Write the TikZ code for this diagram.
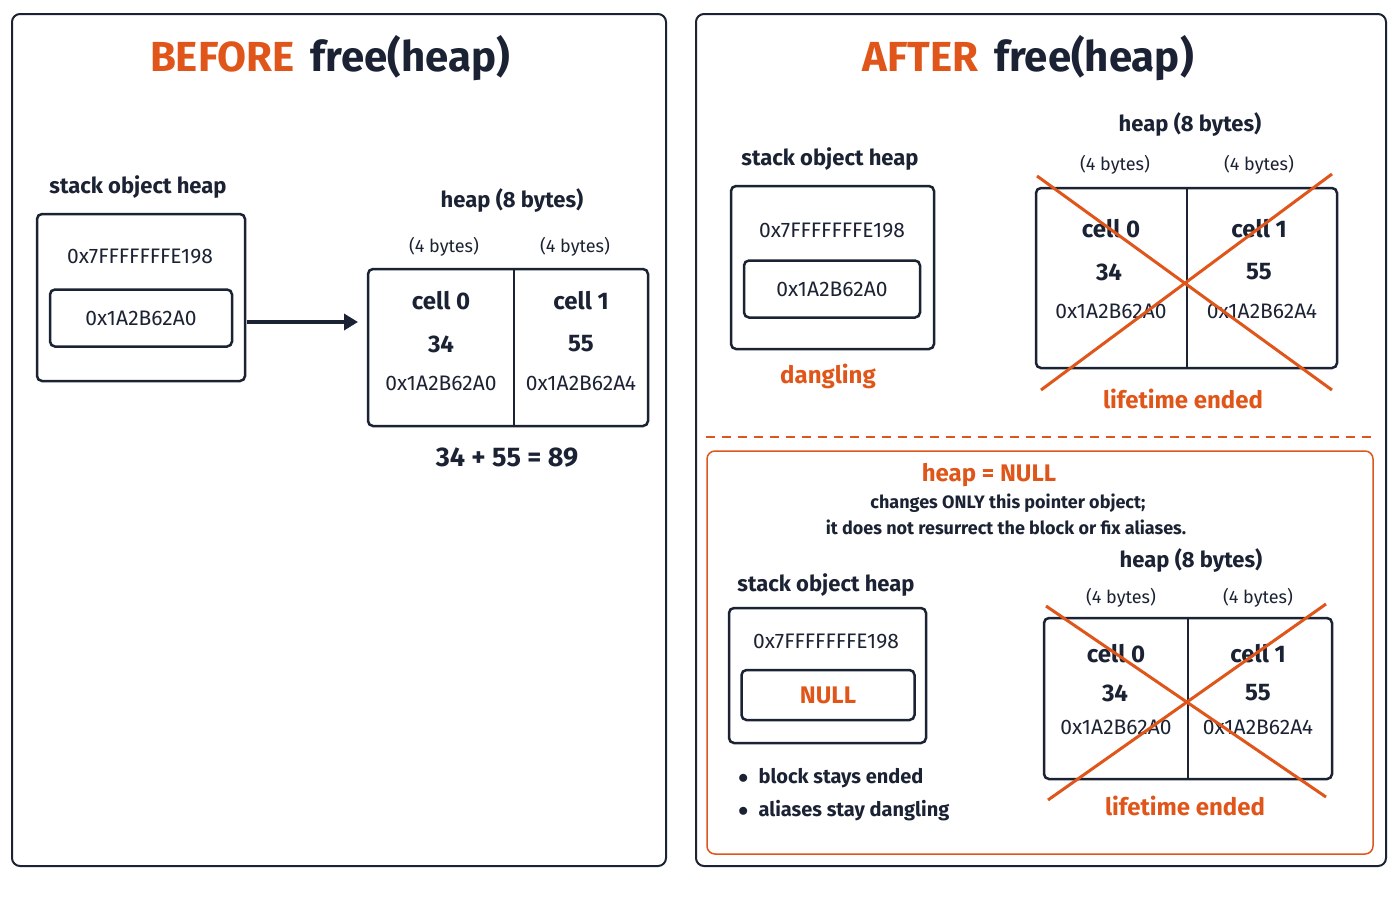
\documentclass[tikz,border=0pt]{standalone}
\usepackage{fontspec}
\setmainfont{Fira Sans}
\usetikzlibrary{arrows.meta}
\begin{document}
\definecolor{org}{HTML}{E0561A}
\definecolor{ink}{HTML}{1B2233}
\begin{tikzpicture}[x=1pt,y=-1pt,
  every node/.style={text=ink,inner sep=0pt},
  panel/.style={draw=ink,line width=2pt,rounded corners=8pt},
  box/.style={draw=ink,line width=2.5pt,rounded corners=5pt},
  ttl/.style={font=\fontsize{42}{46}\selectfont\bfseries},
  lbl/.style={font=\fontsize{22}{24}\selectfont\bfseries},
  sm/.style={font=\fontsize{18}{20}\selectfont},
  smb/.style={font=\fontsize{17}{20}\selectfont\bfseries},
  addr/.style={font=\fontsize{21}{22}\selectfont},
  num/.style={font=\fontsize{24}{26}\selectfont\bfseries},
  olbl/.style={font=\fontsize{24}{26}\selectfont\bfseries,text=org},
  xline/.style={draw=org,line width=3pt}]
\useasboundingbox (0,0) rectangle (1400,900);
% left panel
\draw[panel] (12,14) rectangle (666,866);
\node[ttl] (t1) at (330,58) {\textcolor{org}{BEFORE}\hspace{16pt}free(heap)};
\node[lbl] (s1) at (138,187) {stack object heap};
\draw[box] (37,214) rectangle (245,381);
\node[addr] (a1) at (140,256) {0x7FFFFFFFE198};
\node[box,minimum width=182pt,minimum height=57pt,addr] (p1) at (141,318) {0x1A2B62A0};
\coordinate (o1) at (247,322);
\coordinate (e1) at (358,322);
\node (h1t) [lbl] at (512,200) {heap (8 bytes)};
\node[sm] (b1a) at (444,247) {(4 bytes)};
\node[sm] (b1b) at (575,247) {(4 bytes)};
\node[box,minimum width=280pt,minimum height=157pt] (hb1) at (508,347.5) {};
\draw[ink,line width=2pt] (514,269) -- (514,426);
\draw[ink,line width=3.5pt,-{Triangle[length=14pt,width=16pt]}] (o1) -- (e1);
\node[num] at (441,301) {cell 0};
\node[num] at (441,344) {34};
\node[addr] at (441,383) {0x1A2B62A0};
\node[num] at (581,301) {cell 1};
\node[num] at (581,344) {55};
\node[addr] at (581,383) {0x1A2B62A4};
\node[num,font=\fontsize{27}{28}\selectfont\bfseries] (sum) at (507,458) {34 + 55 = 89};
% right panel
\draw[panel] (696,14) rectangle (1386,866);
\node[ttl] (t2) at (1028,58) {\textcolor{org}{AFTER}\hspace{16pt}free(heap)};
\node[lbl] (s2) at (830,159) {stack object heap};
\draw[box] (731,186) rectangle (934,349);
\node[addr] at (832,230) {0x7FFFFFFFE198};
\node[box,minimum width=176pt,minimum height=57pt,addr] (p2) at (832,289) {0x1A2B62A0};
\node[olbl] (dg) at (828,376) {dangling};
\node[lbl] at (1190,124) {heap (8 bytes)};
\node[sm] at (1115,165) {(4 bytes)};
\node[sm] at (1259,165) {(4 bytes)};
\draw[box] (1036,188) rectangle (1337,368);
\draw[ink,line width=2pt] (1187,188) -- (1187,368);
\node[num] at (1111,229) {cell 0};
\node[num] at (1109,272) {34};
\node[addr] at (1111,311) {0x1A2B62A0};
\node[num] at (1259,229) {cell 1};
\node[num] at (1259,272) {55};
\node[addr] at (1262,311) {0x1A2B62A4};
\draw[xline] (1037,176) -- (1332,390);
\draw[xline] (1332,174) -- (1041,390);
\node[olbl] at (1183,399) {lifetime ended};
\draw[org,line width=2pt,dash pattern=on 9pt off 7pt] (706,437) -- (1376,437);
\draw[draw=org,line width=1.5pt,rounded corners=8pt] (707,451) rectangle (1373,854);
\node[olbl] at (989,475) {heap = NULL};
\node[smb,font=\fontsize{18}{20}\selectfont\bfseries] at (1008,503) {changes ONLY this pointer object;};
\node[smb,font=\fontsize{18}{20}\selectfont\bfseries] at (1006,527) {it does not resurrect the block or fix aliases.};
\node[lbl] at (1191,560) {heap (8 bytes)};
\node[sm] at (1121,598) {(4 bytes)};
\node[sm] at (1258,598) {(4 bytes)};
\node[lbl] at (826,585) {stack object heap};
\draw[box] (729,608) rectangle (926,743);
\node[addr] at (826,641) {0x7FFFFFFFE198};
\node[box,minimum width=173pt,minimum height=50pt,olbl] (nl) at (828,695) {NULL};
\node[smb,anchor=west,font=\fontsize{20}{22}\selectfont\bfseries] at (738,778) {$\bullet$\hspace{10pt}block stays ended};
\node[smb,anchor=west,font=\fontsize{20}{22}\selectfont\bfseries] at (738,811) {$\bullet$\hspace{10pt}aliases stay dangling};
\draw[box] (1044,618) rectangle (1332,779);
\draw[ink,line width=2pt] (1188,618) -- (1188,779);
\node[num] at (1116,654) {cell 0};
\node[num] at (1115,693) {34};
\node[addr] at (1116,727) {0x1A2B62A0};
\node[num] at (1258,654) {cell 1};
\node[num] at (1258,693) {55};
\node[addr] at (1258,727) {0x1A2B62A4};
\draw[xline] (1046,606) -- (1326,797);
\draw[xline] (1326,604) -- (1048,800);
\node[olbl] at (1185,806) {lifetime ended};
\end{tikzpicture}
\end{document}
